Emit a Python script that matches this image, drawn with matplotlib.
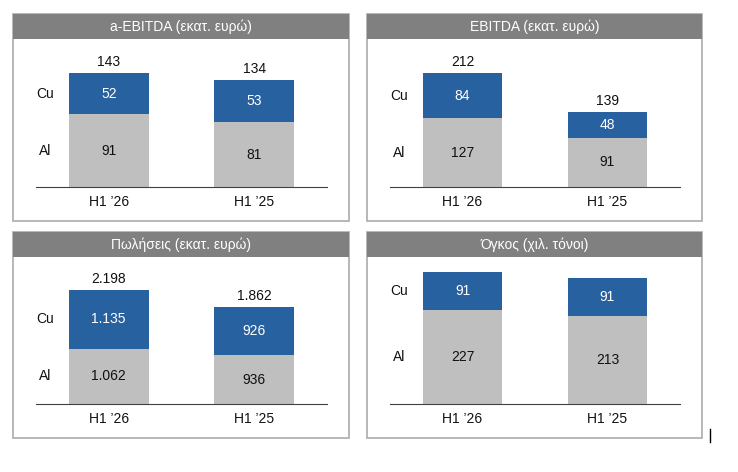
import matplotlib.pyplot as plt
from matplotlib.patches import Rectangle
from matplotlib.lines import Line2D

plt.rcParams['font.family'] = ['Liberation Sans', 'DejaVu Sans']

periods = ["H1 \u201926", "H1 \u201925"]
titles = ["a-EBITDA (εκατ. ευρώ)", "EBITDA (εκατ. ευρώ)",
          "Πωλήσεις (εκατ. ευρώ)", "Όγκος (χιλ. τόνοι)"]
al_vals = [[91, 81], [127, 91], [1062, 936], [227, 213]]
cu_vals = [[52, 53], [84, 48], [1135, 926], [91, 91]]
al_lbls = [["91", "81"], ["127", "91"], ["1.062", "936"], ["227", "213"]]
cu_lbls = [["52", "53"], ["84", "48"], ["1.135", "926"], ["91", "91"]]
tot_lbls = [["143", "134"], ["212", "139"], ["2.198", "1.862"], None]

BLUE = '#2861A0'
GREY = '#BFBFBF'
W, H = 738, 472

fig = plt.figure(figsize=(W / 100, H / 100), dpi=100)


def fx(px):
    return px / W


def fy(py):
    return 1 - py / H


# panel boxes in pixels: (left, top, right, bottom)
boxes = [(13, 14, 349, 221), (367, 14, 702, 221),
         (13, 232, 349, 438), (367, 232, 702, 438)]

for i, (l, t, r, b) in enumerate(boxes):
    # outer frame and title bar (behind the axes)
    fig.add_artist(Rectangle((fx(l), fy(b)), fx(r - l), (b - t) / H,
                             transform=fig.transFigure, facecolor='white',
                             edgecolor='#ABABAB', lw=1.2, zorder=-2))
    fig.add_artist(Rectangle((fx(l), fy(t + 25)), fx(r - l), 25 / H,
                             transform=fig.transFigure, facecolor='#808080',
                             edgecolor='none', zorder=-1))
    fig.text(fx((l + r) / 2), fy(t + 12.5), titles[i], color='white',
             ha='center', va='center', fontsize=10)

    base = b - 34
    ax = fig.add_axes([fx(l + 23), fy(base), fx(r - l - 45), (base - t - 25) / H])
    al = al_vals[i]
    cu = cu_vals[i]
    tot = [a + c for a, c in zip(al, cu)]
    x = [0, 1]
    ax.bar(x, al, width=0.55, color=GREY)
    ax.bar(x, cu, width=0.55, bottom=al, color=BLUE)
    span = 114 if tot_lbls[i] else 132
    ax.set_ylim(0, max(tot) * (base - t - 25) / span)
    ax.set_xlim(-0.5, 1.5)
    for j in x:
        ax.text(j, al[j] / 2, al_lbls[i][j], ha='center', va='center',
                fontsize=10, color='#111111')
        ax.text(j, al[j] + cu[j] / 2, cu_lbls[i][j], ha='center',
                va='center', fontsize=10, color='white')
        if tot_lbls[i]:
            ax.annotate(tot_lbls[i][j], (j, tot[j]), xytext=(0, 3),
                        textcoords='offset points', ha='center',
                        va='bottom', fontsize=10, color='#111111')
    # series names next to first bar
    ax.text(-0.44, al[0] / 2, 'Al', ha='center', va='center', fontsize=10,
            color='#111111')
    ax.text(-0.44, al[0] + cu[0] / 2, 'Cu', ha='center', va='center',
            fontsize=10, color='#111111')
    ax.set_xticks(x)
    ax.set_xticklabels(periods, fontsize=10, color='#111111')
    ax.tick_params(axis='x', length=0, pad=6)
    ax.set_yticks([])
    for s in ['top', 'right', 'left']:
        ax.spines[s].set_visible(False)
    ax.spines['bottom'].set_color('#404040')
    ax.patch.set_alpha(0)

# stray cursor mark in the original screenshot
fig.add_artist(Line2D([fx(710), fx(710)], [fy(429), fy(442)],
                      transform=fig.transFigure, color='black', lw=1))

fig.savefig('out.png', dpi=100)
